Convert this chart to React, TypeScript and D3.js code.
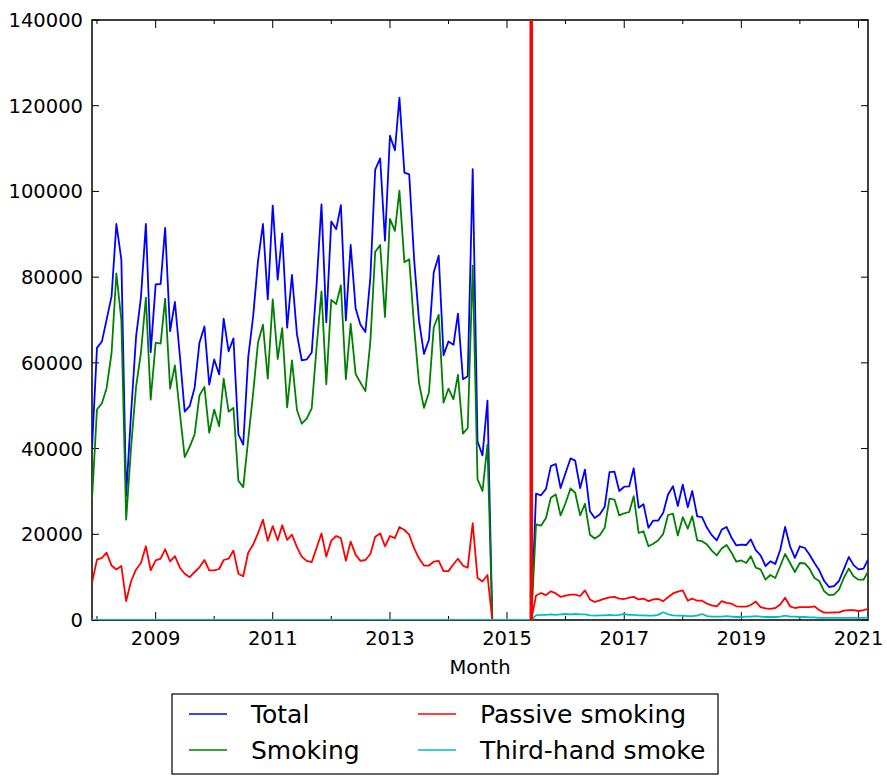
import { useEffect, useRef } from 'react';
import * as d3 from 'd3';

// Monthly counts, Dec 2007 .. Mar 2021 (one row per calendar year)
const startYear = 2007;
const startMonth = 11; // December (zero-based)

const totalValues = [
  40000,
  63500, 65000, 70100, 75500, 92400, 84100, 29000, 48400, 66200, 75200, 92400, 62500,
  78300, 78400, 91500, 67400, 74200, 61600, 48600, 49900, 54200, 64700, 68500, 54900,
  60800, 57300, 70300, 62700, 65700, 43300, 40900, 61200, 70900, 83700, 92400, 74800,
  96700, 79400, 90200, 68200, 80500, 66700, 60600, 60800, 62400, 78000, 97000, 69500,
  93000, 91200, 96800, 69900, 87500, 72700, 68900, 67200, 80000, 105100, 107700, 88500,
  113000, 109600, 121900, 104400, 104000, 84000, 69900, 62100, 65400, 81100, 85000, 61800,
  65000, 64200, 71500, 56200, 56900, 105200, 41700, 38400, 51200, 0, 0, 0,
  0, 0, 0, 0, 0, 0, 29500, 29100, 30600, 35900, 36400, 30800,
  34300, 37700, 37200, 30800, 35100, 25400, 23800, 24600, 26400, 34500, 34600, 30100,
  31100, 31200, 35400, 26200, 27000, 21500, 23200, 23200, 25000, 29300, 31200, 26600,
  31600, 26300, 30100, 24200, 24000, 21500, 19800, 18600, 21100, 21700, 19200, 17400,
  17600, 17500, 18800, 16300, 15100, 12600, 13700, 13100, 16400, 21700, 17200, 14500,
  17200, 16800, 15300, 13300, 11600, 9100, 7700, 7900, 9100, 11800, 14700, 12800,
  11800, 12000, 14100,
];

const smokingValues = [
  28000,
  49100, 50600, 54100, 62300, 80900, 70000, 23400, 40500, 54500, 62300, 75200, 51400,
  64700, 64500, 75000, 54000, 59400, 48300, 38000, 40400, 43300, 52400, 54400, 43700,
  49100, 45200, 56300, 48600, 49500, 32500, 31000, 42100, 53000, 64700, 68900, 56300,
  74800, 60900, 68100, 49600, 60600, 49000, 45800, 47000, 49400, 63400, 76700, 55000,
  74700, 73700, 78100, 56200, 69100, 57400, 55400, 53400, 65000, 85900, 87500, 70700,
  93600, 90800, 100200, 83500, 84200, 68200, 55400, 49500, 53100, 68300, 71200, 50700,
  54000, 51500, 57200, 43500, 44800, 82700, 32900, 30100, 40900, 0, 0, 0,
  0, 0, 0, 0, 0, 0, 22300, 22000, 23800, 28500, 29300, 24400,
  27300, 30700, 29700, 24400, 27100, 19900, 19000, 19800, 21500, 28300, 28100, 24400,
  24900, 25200, 28900, 20300, 20700, 17200, 17800, 18600, 20100, 24500, 24800, 19700,
  24000, 21300, 24200, 18600, 18400, 17600, 16200, 15100, 16700, 17500, 15700, 13600,
  13900, 13300, 14900, 12200, 11800, 9400, 10500, 9800, 12600, 15400, 13300, 11200,
  13300, 13200, 12000, 9800, 9100, 6700, 5800, 5900, 7100, 9800, 12000, 10200,
  9400, 9400, 11300,
];

const passiveValues = [
  8700,
  14100, 14500, 15700, 12700, 11800, 12600, 4400, 9100, 11800, 13300, 17200, 11600,
  13900, 14300, 16500, 13700, 14900, 12200, 10800, 10000, 11200, 12300, 14000, 11600,
  11600, 11900, 14000, 14300, 16200, 10800, 10200, 15700, 17600, 20200, 23400, 18500,
  21900, 18600, 22100, 18700, 19900, 17000, 14800, 13800, 13500, 16800, 20200, 14800,
  18500, 19600, 19100, 13800, 18300, 15200, 13800, 14000, 15400, 19400, 20200, 17200,
  19600, 19100, 21700, 21000, 19900, 16700, 14400, 12700, 12700, 13600, 13800, 11400,
  11400, 13000, 14300, 12700, 12200, 22600, 9800, 9000, 10500, 0, 0, 0,
  0, 0, 0, 0, 0, 0, 5700, 6300, 5800, 6700, 6200, 5400,
  5700, 5900, 5900, 5600, 6900, 4800, 4200, 4600, 5000, 5300, 5400, 5000,
  4900, 5200, 5400, 4800, 5000, 4400, 4800, 4900, 4400, 5300, 6200, 6600,
  6900, 4500, 5000, 4500, 4500, 3800, 3400, 3200, 4400, 4000, 3800, 3200,
  3100, 3100, 3500, 4300, 3000, 2700, 2600, 2800, 3600, 5200, 3200, 2800,
  3000, 3000, 3000, 3200, 2300, 1700, 1700, 1800, 1800, 2200, 2300, 2300,
  2100, 2300, 2600,
];

const thirdHandValues = [
  0,
  0, 0, 0, 0, 0, 0, 0, 0, 0, 0, 0, 0,
  0, 0, 0, 0, 0, 0, 0, 0, 0, 0, 0, 0,
  0, 0, 0, 0, 0, 0, 0, 0, 0, 0, 0, 0,
  0, 0, 0, 0, 0, 0, 0, 0, 0, 0, 0, 0,
  0, 0, 0, 0, 0, 0, 0, 0, 0, 0, 0, 0,
  0, 0, 0, 0, 0, 0, 0, 0, 0, 0, 0, 0,
  0, 0, 0, 0, 0, 0, 0, 0, 0, 0, 0, 0,
  0, 0, 0, 0, 0, 0, 1100, 1200, 1200, 1300, 1200, 1300,
  1400, 1300, 1400, 1300, 1300, 1100, 1000, 1100, 1100, 1200, 1100, 1200,
  1400, 1200, 1200, 1100, 1100, 1000, 1000, 1200, 1800, 1300, 1100, 1000,
  1000, 900, 900, 1000, 1400, 900, 800, 800, 800, 900, 800, 700,
  700, 800, 800, 900, 800, 700, 700, 700, 800, 1000, 800, 800,
  700, 700, 600, 600, 500, 500, 500, 500, 500, 500, 500, 500,
  500, 500, 600,
];

const seriesNames = ['Total', 'Smoking', 'Passive smoking', 'Third-hand smoke'];
const seriesColors = ['#0000ff', '#008000', '#ff0000', '#00bfbf'];
const seriesValues = [totalValues, smokingValues, passiveValues, thirdHandValues];

const yTicks = [0, 20000, 40000, 60000, 80000, 100000, 120000, 140000];
const tickYears = [2008, 2009, 2010, 2011, 2012, 2013, 2014, 2015, 2016, 2017, 2018, 2019, 2020, 2021];
const labelYears = [2009, 2011, 2013, 2015, 2017, 2019, 2021];
const breakDate = new Date(2015, 5, 1);

const font = '"DejaVu Sans", sans-serif';

export default function App() {
  const svgRef = useRef<SVGSVGElement>(null);

  useEffect(() => {
    if (!svgRef.current) return;
    const svg = d3.select(svgRef.current);
    svg.selectAll('*').remove();

    const left = 92;
    const right = 868;
    const top = 20;
    const bottom = 620;

    const months = d3.range(totalValues.length).map((k) => new Date(startYear, startMonth + k, 1));

    const x = d3
      .scaleTime()
      .domain([months[0], months[months.length - 1]])
      .range([left, right]);
    const y = d3.scaleLinear().domain([0, 140000]).range([bottom, top]);

    svg.append('rect').attr('width', 887).attr('height', 780).attr('fill', '#ffffff');

    svg
      .append('defs')
      .append('clipPath')
      .attr('id', 'plot-clip')
      .append('rect')
      .attr('x', left)
      .attr('y', top)
      .attr('width', right - left)
      .attr('height', bottom - top);

    // Frame
    svg
      .append('rect')
      .attr('x', left)
      .attr('y', top)
      .attr('width', right - left)
      .attr('height', bottom - top)
      .attr('fill', 'none')
      .attr('stroke', '#000')
      .attr('stroke-width', 1.5);

    // Y ticks (inside, both sides) and labels
    const yAxis = svg.append('g');
    yTicks.forEach((t) => {
      yAxis
        .append('line')
        .attr('x1', left)
        .attr('x2', left + 7)
        .attr('y1', y(t))
        .attr('y2', y(t))
        .attr('stroke', '#000')
        .attr('stroke-width', 1);
      yAxis
        .append('line')
        .attr('x1', right)
        .attr('x2', right - 7)
        .attr('y1', y(t))
        .attr('y2', y(t))
        .attr('stroke', '#000')
        .attr('stroke-width', 1);
      yAxis
        .append('text')
        .attr('x', left - 9)
        .attr('y', y(t))
        .attr('dy', '0.36em')
        .attr('text-anchor', 'end')
        .attr('font-family', font)
        .attr('font-size', 19.5)
        .attr('fill', '#000')
        .text(String(t));
    });

    // X ticks: labelled years are major, others minor
    const xAxis = svg.append('g');
    tickYears.forEach((yr) => {
      const px = x(new Date(yr, 0, 1));
      const len = labelYears.includes(yr) ? 8 : 4;
      xAxis
        .append('line')
        .attr('x1', px)
        .attr('x2', px)
        .attr('y1', bottom)
        .attr('y2', bottom - len)
        .attr('stroke', '#000')
        .attr('stroke-width', 1);
      xAxis
        .append('line')
        .attr('x1', px)
        .attr('x2', px)
        .attr('y1', top)
        .attr('y2', top + len)
        .attr('stroke', '#000')
        .attr('stroke-width', 1);
    });
    labelYears.forEach((yr) => {
      xAxis
        .append('text')
        .attr('x', x(new Date(yr, 0, 1)))
        .attr('y', 645)
        .attr('text-anchor', 'middle')
        .attr('font-family', font)
        .attr('font-size', 19.5)
        .attr('fill', '#000')
        .text(String(yr));
    });

    svg
      .append('text')
      .attr('x', (left + right) / 2)
      .attr('y', 674)
      .attr('text-anchor', 'middle')
      .attr('font-family', font)
      .attr('font-size', 19.5)
      .attr('fill', '#000')
      .text('Month');

    // Series lines
    const line = d3
      .line<number>()
      .x((d, i) => x(months[i]))
      .y((d) => y(d));

    const lines = svg.append('g').attr('clip-path', 'url(#plot-clip)');
    seriesValues.forEach((vals, s) => {
      lines
        .append('path')
        .datum(vals)
        .attr('d', line)
        .attr('fill', 'none')
        .attr('stroke', seriesColors[s])
        .attr('stroke-width', 1.8)
        .attr('stroke-linejoin', 'round');
    });

    // Red marker at the data break
    lines
      .append('line')
      .attr('x1', x(breakDate))
      .attr('x2', x(breakDate))
      .attr('y1', top)
      .attr('y2', bottom)
      .attr('stroke', '#ff0000')
      .attr('stroke-width', 3.5);

    // Legend
    const legend = svg.append('g');
    legend
      .append('rect')
      .attr('x', 172)
      .attr('y', 694)
      .attr('width', 546)
      .attr('height', 80)
      .attr('fill', '#fff')
      .attr('stroke', '#000')
      .attr('stroke-width', 1.2);

    seriesNames.forEach((name, s) => {
      const col = Math.floor(s / 2);
      const row = s % 2;
      const lx = col === 0 ? 189 : 418;
      const ly = row === 0 ? 714 : 750;
      legend
        .append('line')
        .attr('x1', lx)
        .attr('x2', lx + 38)
        .attr('y1', ly)
        .attr('y2', ly)
        .attr('stroke', seriesColors[s])
        .attr('stroke-width', 1.5);
      legend
        .append('text')
        .attr('x', lx + 62)
        .attr('y', ly)
        .attr('dy', '0.36em')
        .attr('font-family', font)
        .attr('font-size', 25)
        .attr('fill', '#000')
        .text(name);
    });
  }, []);

  return (
    <div style={{ position: 'absolute', left: 0, top: 0 }}>
      <svg ref={svgRef} width={887} height={780} style={{ display: 'block' }} />
    </div>
  );
}
